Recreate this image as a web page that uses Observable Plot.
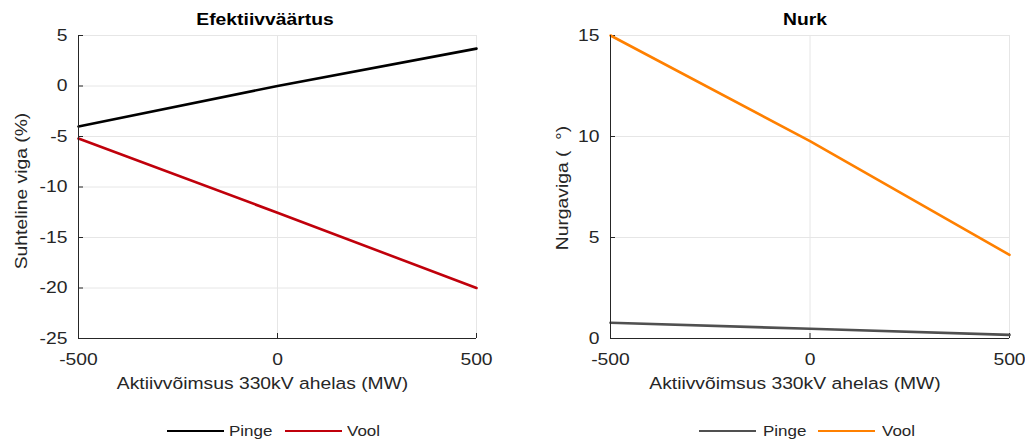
<!DOCTYPE html>
<html>
<head>
<meta charset="utf-8">
<script src="https://cdn.jsdelivr.net/npm/d3@7"></script>
<script src="https://cdn.jsdelivr.net/npm/@observablehq/plot@0.6"></script>
<style>
  html, body { margin: 0; padding: 0; background: #fff; }
  body { width: 1025px; height: 441px; position: relative; overflow: hidden; font-family: "Liberation Sans", Arial, Helvetica, sans-serif; }
  .panel { position: absolute; top: 0; }
  .title { position: absolute; top: 10px; font-weight: bold; font-size: 16.5px; color: #000; transform: translateX(-50%) scaleX(1.17); white-space: nowrap; line-height: 19px; }
  .legend { position: absolute; top: 422px; display: flex; align-items: center; font-size: 14.5px; color: #262626; line-height: 18px; }
  .legend svg { display: block; }
  .legend span { display: inline-block; transform: scaleX(1.17); transform-origin: left center; }
</style>
</head>
<body>
<script>
// ---- data ----
const power = [-500, 0, 500];
const rmsVoltage = [-4.0, 0.0, 3.7];
const rmsCurrent = [-5.2, -12.55, -20.0];
const angleVoltage = [0.78, 0.48, 0.18];
const angleCurrent = [15.0, 9.77, 4.14];
const seriesNames = ["Pinge", "Vool"];
const xTicks = [-500, 0, 500];
const yTicksLeft = [5, 0, -5, -10, -15, -20, -25];
const yTicksRight = [0, 5, 10, 15];
const titles = ["Efektiivväärtus", "Nurk"];
const xLabel = "Aktiivvõimsus 330kV ahelas (MW)";
const yLabels = ["Suhteline viga (%)", "Nurgaviga (  °)"];
const colorsLeft = ["#000000", "#c0000b"];
const colorsRight = ["#505050", "#ff8000"];

const FONT = '"Liberation Sans", Arial, Helvetica, sans-serif';
const SX = 1.17;

function rows(a, b) {
  const out = [];
  power.forEach((p, i) => out.push({x: p, y: a[i], s: seriesNames[0]}));
  power.forEach((p, i) => out.push({x: p, y: b[i], s: seriesNames[1]}));
  return out;
}

function makePanel(opts) {
  const data = rows(opts.a, opts.b);
  const svg = Plot.plot({
    width: opts.width,
    height: 400,
    marginLeft: opts.marginLeft,
    marginRight: opts.marginRight,
    marginTop: 35,
    marginBottom: 62,
    style: {fontFamily: FONT, fontSize: "16.5px", color: "#262626", background: "#fff", overflow: "visible"},
    x: {domain: [-500, 500]},
    y: {domain: opts.yDomain},
    color: {domain: seriesNames, range: opts.colors},
    marks: [
      Plot.gridX(xTicks, {stroke: "#e6e6e6", strokeOpacity: 1}),
      Plot.gridY(opts.yTicks, {stroke: "#e6e6e6", strokeOpacity: 1}),
      Plot.axisX(xTicks, {tickSize: 0, tickPadding: 15, fontSize: 16.5, tickFormat: d => String(d), label: null}),
      Plot.axisY(opts.yTicks, {tickSize: 0, tickPadding: 11, fontSize: 16.5, tickFormat: d => String(d), label: null}),
      Plot.axisX(xTicks, {tickSize: -5, stroke: "#262626", tickFormat: () => "", label: null}),
      Plot.axisY(opts.yTicks, {tickSize: -5, stroke: "#262626", tickFormat: () => "", label: null}),
      Plot.text([xLabel], {text: d => d, frameAnchor: "bottom", lineAnchor: "top", dx: -15, dy: 39, fontSize: 16.5, fill: "#262626"}),
      Plot.text([opts.yLabel], {text: d => d, frameAnchor: "left", rotate: -90, textAnchor: "middle", lineAnchor: "middle", dx: opts.yLabelDx, dy: opts.yLabelDy, fontSize: 16.5, fill: "#262626"}),
      Plot.line(data, {x: "x", y: "y", z: "s", stroke: "s", strokeWidth: 2.6}),
      Plot.ruleX([-500], {stroke: "#262626", strokeWidth: 1}),
      Plot.ruleY([opts.yDomain[0]], {stroke: "#262626", strokeWidth: 1})
    ]
  });
  // widen glyphs horizontally (along the text direction) to match the reference rendering
  svg.querySelectorAll("text").forEach(t => {
    const tr = t.getAttribute("transform") || "";
    t.setAttribute("transform", (tr + ` scale(${SX},1)`).trim());
  });
  return svg;
}

function legend(colors, left, gaps) {
  const div = document.createElement("div");
  div.className = "legend";
  div.style.left = left + "px";
  document.body.appendChild(div);
  seriesNames.forEach((n, i) => {
    const svg = d3.create("svg").attr("width", 57).attr("height", 10).style("margin-right", gaps[0] + "px");
    svg.append("line").attr("x1", 0).attr("x2", 57).attr("y1", 5).attr("y2", 5).attr("stroke", colors[i]).attr("stroke-width", 2);
    div.appendChild(svg.node());
    const sp = document.createElement("span");
    sp.textContent = n;
    div.appendChild(sp);
    sp.style.marginRight = (sp.offsetWidth * (SX - 1) + (i === 0 ? gaps[1] : 0)) + "px";
  });
}

const left = makePanel({width: 512, marginLeft: 78, marginRight: 36, a: rmsVoltage, b: rmsCurrent, yDomain: [-25, 5], yTicks: yTicksLeft, yLabel: yLabels[0], colors: colorsLeft, yLabelDx: -57, yLabelDy: 4});
const right = makePanel({width: 513, marginLeft: 98, marginRight: 16, a: angleVoltage, b: angleCurrent, yDomain: [0, 15], yTicks: yTicksRight, yLabel: yLabels[1], colors: colorsRight, yLabelDx: -48, yLabelDy: 1});

const p1 = document.createElement("div"); p1.className = "panel"; p1.style.left = "0px"; p1.appendChild(left);
const p2 = document.createElement("div"); p2.className = "panel"; p2.style.left = "512px"; p2.appendChild(right);
document.body.appendChild(p1);
document.body.appendChild(p2);

[[titles[0], 265], [titles[1], 805]].forEach(([t, cx]) => {
  const d = document.createElement("div");
  d.className = "title";
  d.style.left = cx + "px";
  d.textContent = t;
  document.body.appendChild(d);
});

legend(colorsLeft, 167, [5, 13]);
legend(colorsRight, 699, [7, 12]);
</script>
</body>
</html>
